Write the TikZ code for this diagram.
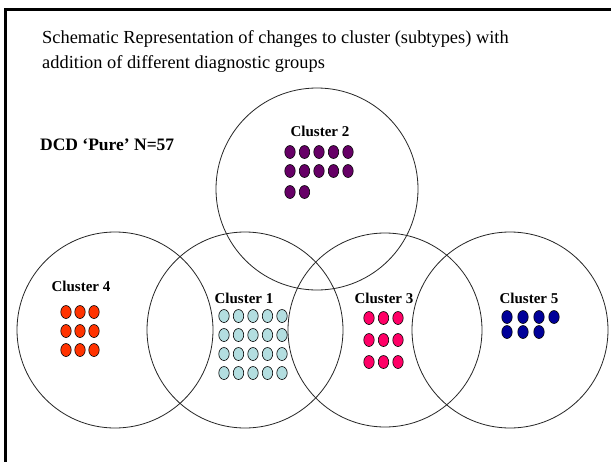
\documentclass[tikz,border=0pt]{standalone}
\usepackage{fontspec}
\setmainfont{Liberation Serif}
\usetikzlibrary{shapes.geometric}
\definecolor{cpurple}{HTML}{660066}
\definecolor{corange}{HTML}{FF3300}
\definecolor{clblue}{HTML}{B3DEE0}
\definecolor{cpink}{HTML}{FF0066}
\definecolor{cnavy}{HTML}{000099}
\begin{document}
\begin{tikzpicture}[x=1pt,y=-1pt,
  ring/.style={circle,draw=black!85,line width=0.8pt,minimum size=#1,inner sep=0pt},
  dot/.style={ellipse,draw=black,line width=0.6pt,fill=#1,minimum width=10.4pt,minimum height=13pt,inner sep=0pt},
  lab/.style={font=\fontsize{15}{16}\selectfont\bfseries,inner sep=0pt},
  title/.style={font=\fontsize{18.4}{25}\selectfont,align=left,inner sep=0pt,anchor=base west}]
\useasboundingbox (0,0) rectangle (611,461);
\fill[white] (0,0) rectangle (611,461);
% frame
\coordinate (fb) at (5.5,461);
\coordinate (fc) at (5.5,9);
\coordinate (fr) at (611,9);
\draw[line width=3pt,line cap=rect] (fb) -- (fc) -- (fr);
% title
\node[title] (t1) at (42,43) {Schematic Representation of changes to cluster (subtypes) with};
\node[title] (t2) at (42,68) {addition of different diagnostic groups};
\node[font=\fontsize{17.5}{18}\selectfont\bfseries,inner sep=0pt,anchor=west] (dcd) at (40,145) {DCD ‘Pure’ N=57};
% circles
\node[ring=202pt] (c2) at (317,189) {};
\node[ring=196pt] (c4) at (115,330) {};
\node[ring=196pt] (c1) at (245,330) {};
\node[ring=194pt] (c3) at (385,330) {};
\node[ring=196pt] (c5) at (510,330) {};
% labels
\node[lab] (l2) at (320,131) {Cluster 2};
\node[lab] (l4) at (81,286) {Cluster 4};
\node[lab] (l1) at (244,298) {Cluster 1};
\node[lab] (l3) at (384,298) {Cluster 3};
\node[lab] (l5) at (529,298) {Cluster 5};
% cluster 2 dots
\foreach \i/\x in {1/290,2/304.5,3/319,4/333.5,5/348}{
  \node[dot=cpurple] (d2a\i) at (\x,152) {};
  \node[dot=cpurple] (d2b\i) at (\x,171) {};
}
\foreach \i/\x in {1/290,2/304.5}{\node[dot=cpurple] (d2c\i) at (\x,192) {};}
% cluster 4 dots
\foreach \j/\y in {1/312,2/331,3/350}{
  \foreach \i/\x in {1/66,2/80,3/94}{\node[dot=corange] (d4\j\i) at (\x,\y) {};}
}
% cluster 1 dots
\foreach \j/\y in {1/316,2/335,3/354,4/373}{
  \foreach \i/\x in {1/224,2/238.5,3/253,4/267.5,5/282}{\node[dot=clblue] (d1\j\i) at (\x,\y) {};}
}
% cluster 3 dots
\foreach \j/\y in {1/318,2/340,3/362}{
  \foreach \i/\x in {1/369,2/383.5,3/398}{\node[dot=cpink] (d3\j\i) at (\x,\y) {};}
}
% cluster 5 dots
\foreach \i/\x in {1/507,2/523,3/539,4/554}{\node[dot=cnavy] (d5a\i) at (\x,317) {};}
\foreach \i/\x in {1/507,2/523,3/539}{\node[dot=cnavy] (d5b\i) at (\x,332) {};}
\end{tikzpicture}
\end{document}
